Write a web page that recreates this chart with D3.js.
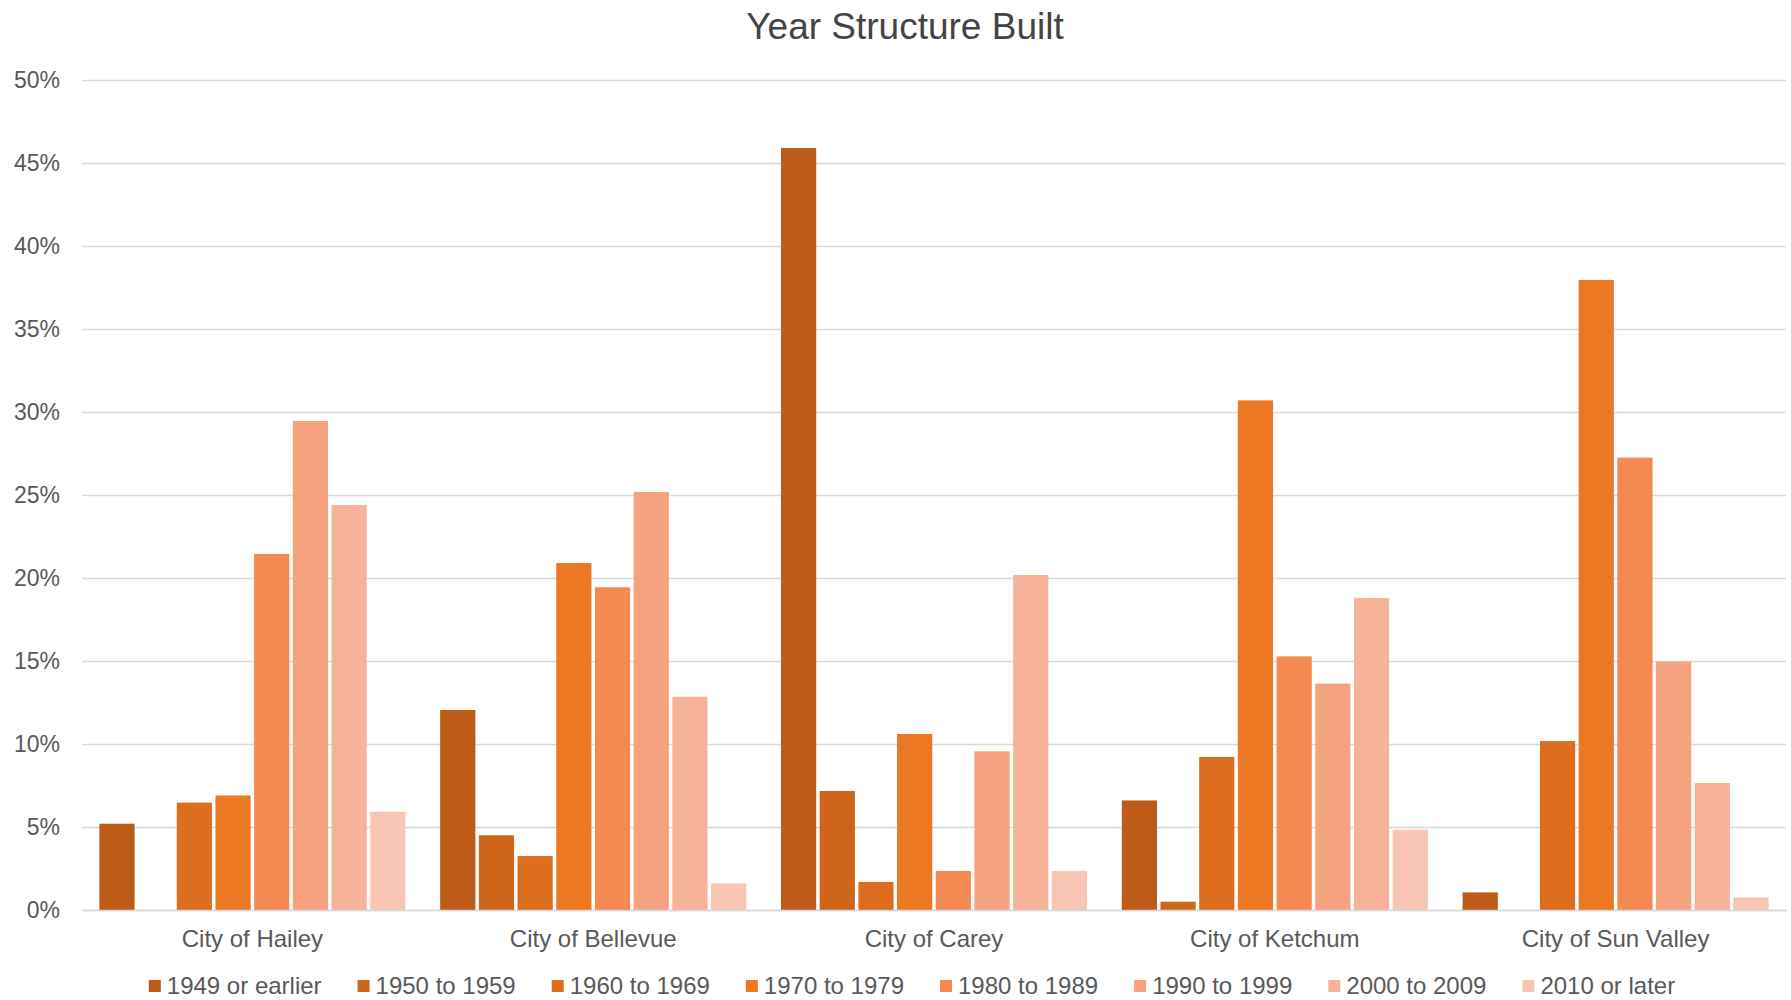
<!DOCTYPE html>
<html>
<head>
<meta charset="utf-8">
<script src="https://cdn.jsdelivr.net/npm/d3@7"></script>
<style>
  html, body { margin: 0; padding: 0; background: #ffffff; }
  svg text { font-family: "Liberation Sans", Arial, sans-serif; }
</style>
</head>
<body>
<svg id="chart" width="1791" height="1000"></svg>
<script>
// Share of housing units by year the structure was built (%)
const cities = ["City of Hailey", "City of Bellevue", "City of Carey", "City of Ketchum", "City of Sun Valley"];
const periods = ["1949 or earlier", "1950 to 1959", "1960 to 1969", "1970 to 1979",
                 "1980 to 1989", "1990 to 1999", "2000 to 2009", "2010 or later"];
const periodColors = ["#BC5C18", "#CF651B", "#DE6E1F", "#EC7823",
                      "#F48A51", "#F5A37E", "#F7B29A", "#F8C4B4"];

const built1949orEarlier = [5.2, 12.05, 45.9, 6.6, 1.06];
const built1950to1959    = [0, 4.5, 7.17, 0.5, 0];
const built1960to1969    = [6.47, 3.25, 1.69, 9.22, 10.18];
const built1970to1979    = [6.9, 20.9, 10.6, 30.7, 37.95];
const built1980to1989    = [21.45, 19.44, 2.35, 15.28, 27.25];
const built1990to1999    = [29.46, 25.18, 9.56, 13.64, 14.96];
const built2000to2009    = [24.4, 12.85, 20.18, 18.79, 7.65];
const built2010orLater   = [5.92, 1.6, 2.35, 4.84, 0.76];

const yTicks = [0, 5, 10, 15, 20, 25, 30, 35, 40, 45, 50];

const seriesValues = [built1949orEarlier, built1950to1959, built1960to1969, built1970to1979,
                      built1980to1989, built1990to1999, built2000to2009, built2010orLater];

const svg = d3.select("#chart");
const textColor = "#595959";
const plot = { left: 82, right: 1786, top: 80, bottom: 910 };

const x0 = d3.scaleBand()
  .domain(cities)
  .range([plot.left, plot.right])
  .paddingInner(0.102)
  .paddingOuter(0.051);

const x1 = d3.scaleBand()
  .domain(periods)
  .range([0, x0.bandwidth()])
  .paddingInner(0.09)
  .paddingOuter(0);

const y = d3.scaleLinear().domain([0, 50]).range([plot.bottom, plot.top]);
const color = d3.scaleOrdinal().domain(periods).range(periodColors);

// Title
svg.append("text")
  .attr("x", 905).attr("y", 39)
  .attr("text-anchor", "middle")
  .attr("fill", "#444444")
  .style("font-size", "37px")
  .text("Year Structure Built");

// Horizontal gridlines and value axis labels
const yAxis = d3.axisLeft(y)
  .tickValues(yTicks)
  .tickSize(-(plot.right - plot.left))
  .tickPadding(22)
  .tickFormat(d => d + "%");

const yG = svg.append("g")
  .attr("transform", `translate(${plot.left},0)`)
  .call(yAxis);
yG.select(".domain").remove();
yG.selectAll(".tick line").attr("stroke", "#D9D9D9").attr("stroke-width", 1.6);
yG.selectAll(".tick text")
  .attr("fill", textColor)
  .style("font-size", "23px")
  .style("font-family", "'Liberation Sans', Arial, sans-serif");

// Bars
const data = cities.map((c, ci) => ({
  city: c,
  values: periods.map((p, pi) => ({ period: p, value: seriesValues[pi][ci] }))
}));

const groups = svg.append("g").selectAll("g")
  .data(data)
  .join("g")
  .attr("transform", d => `translate(${x0(d.city)},0)`);

groups.selectAll("rect")
  .data(d => d.values.filter(v => v.value > 0))
  .join("rect")
  .attr("x", d => x1(d.period))
  .attr("y", d => y(d.value))
  .attr("width", x1.bandwidth())
  .attr("height", d => y(0) - y(d.value))
  .attr("fill", d => color(d.period));

// Category axis
const xAxis = d3.axisBottom(x0).tickSize(0).tickPadding(20);
const xG = svg.append("g")
  .attr("transform", `translate(0,${plot.bottom})`)
  .call(xAxis);
xG.select(".domain").attr("stroke", "#D9D9D9").attr("stroke-width", 1.6);
xG.selectAll(".tick text")
  .attr("fill", textColor)
  .style("font-size", "24px")
  .style("font-family", "'Liberation Sans', Arial, sans-serif");

// Legend
const legend = svg.append("g");
const legendY = 986;
const swatch = 12, swatchGap = 6, itemGap = 36;
let cursor = 0;
const items = legend.selectAll("g")
  .data(periods)
  .join("g");
items.append("rect")
  .attr("width", swatch).attr("height", swatch)
  .attr("y", legendY - swatch / 2)
  .attr("fill", d => color(d));
items.append("text")
  .attr("x", swatch + swatchGap)
  .attr("y", legendY)
  .attr("dy", "0.35em")
  .attr("fill", textColor)
  .style("font-size", "24px")
  .text(d => d);
items.each(function () {
  const g = d3.select(this);
  g.attr("transform", `translate(${cursor},0)`);
  const w = g.select("text").node().getComputedTextLength();
  cursor += swatch + swatchGap + w + itemGap;
});
const legendWidth = cursor - itemGap;
legend.attr("transform", `translate(${(plot.left + plot.right) / 2 - 22 - legendWidth / 2},0)`);
</script>
</body>
</html>
